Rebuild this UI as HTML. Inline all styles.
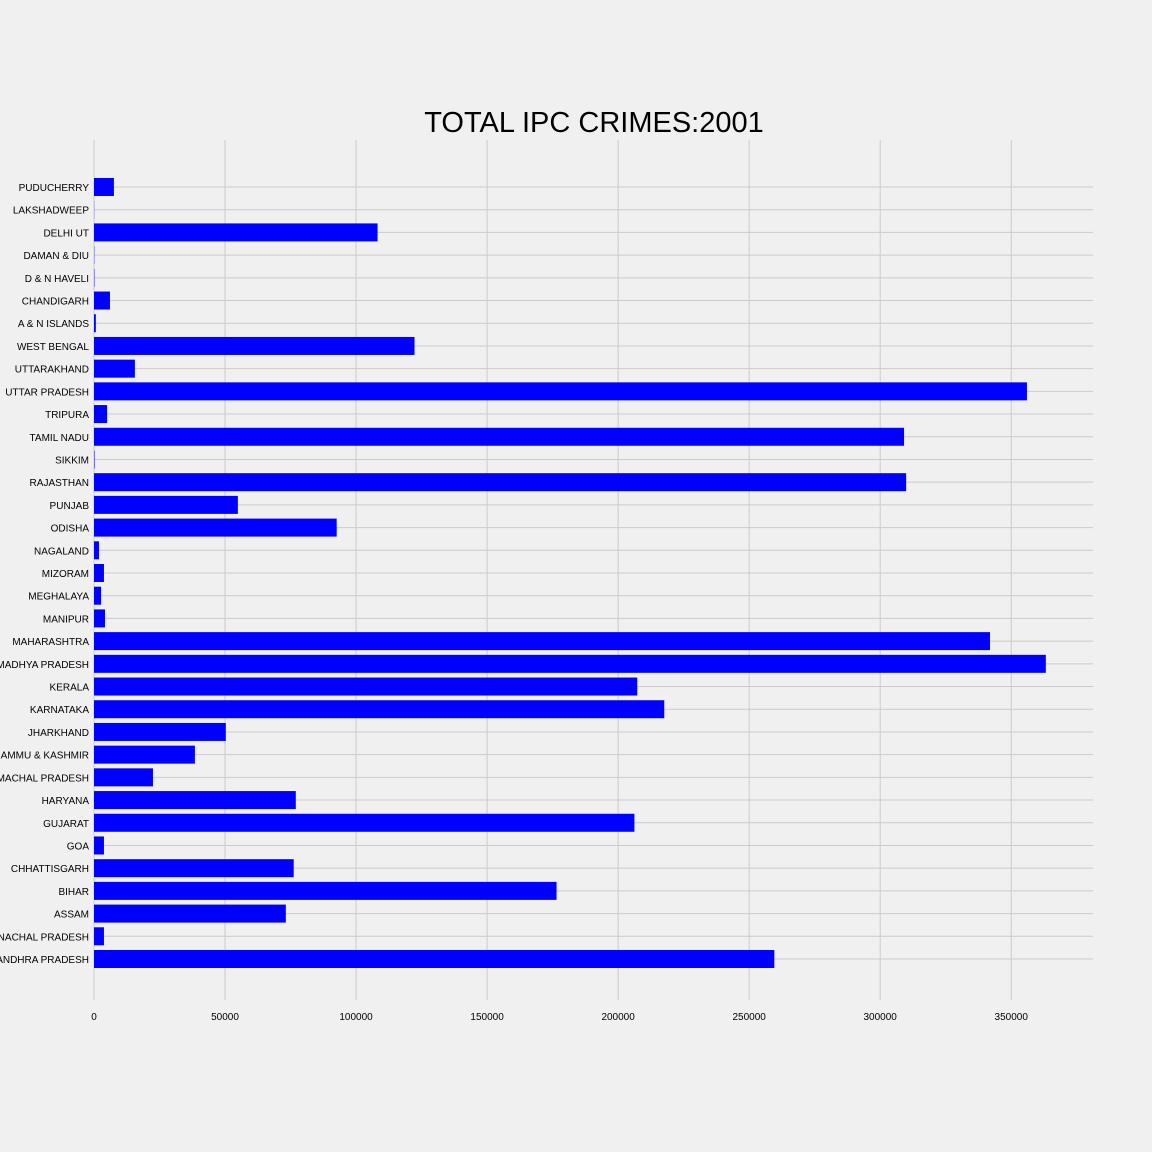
<!DOCTYPE html>
<html><head><meta charset="utf-8"><style>
body{margin:0;background:#f0f0f0;}
svg{display:block;font-family:"Liberation Sans","DejaVu Sans",sans-serif;}
</style></head><body>
<svg id="chart" width="1152" height="1152">
<rect width="1152" height="1152" fill="#f0f0f0"/>
<text x="594" y="132" font-size="29" text-anchor="middle" fill="#000">TOTAL IPC CRIMES:2001</text>
<g id="grid"></g><g id="bars"></g><g id="labels"></g>
</svg>
<script>
const categories=["ANDHRA PRADESH","ARUNACHAL PRADESH","ASSAM","BIHAR","CHHATTISGARH","GOA","GUJARAT","HARYANA","HIMACHAL PRADESH","JAMMU & KASHMIR","JHARKHAND","KARNATAKA","KERALA","MADHYA PRADESH","MAHARASHTRA","MANIPUR","MEGHALAYA","MIZORAM","NAGALAND","ODISHA","PUNJAB","RAJASTHAN","SIKKIM","TAMIL NADU","TRIPURA","UTTAR PRADESH","UTTARAKHAND","WEST BENGAL","A & N ISLANDS","CHANDIGARH","D & N HAVELI","DAMAN & DIU","DELHI UT","LAKSHADWEEP","PUDUCHERRY"];
const values=[259600,3800,73200,176500,76200,3800,206200,77000,22500,38500,50300,217600,207300,363200,341900,4200,2700,3800,1900,92600,54900,309900,200,309100,5000,356000,15600,122300,700,6100,150,100,108200,60,7600];
const xTicks=[0,50000,100000,150000,200000,250000,300000,350000];
const NS="http://www.w3.org/2000/svg";
const x0=94,x1=1093,yTop=140,yBot=1000,xMax=381200;
const xs=v=>x0+v/xMax*(x1-x0);
const ys=i=>959-i*(959-187)/34;
const grid=document.getElementById('grid'),bars=document.getElementById('bars'),labels=document.getElementById('labels');
function mk(tag,attrs,parent){const e=document.createElementNS(NS,tag);for(const k in attrs)e.setAttribute(k,attrs[k]);parent.appendChild(e);return e;}
xTicks.forEach(t=>{
  const l=mk('line',{x1:xs(t),x2:xs(t),y1:yTop,y2:yBot,stroke:'#cbcbcb','stroke-width':1},grid);
  
  
  const tx=mk('text',{x:xs(t),y:1020,'font-size':10,'text-anchor':'middle',fill:'#000'},labels);
  tx.textContent=String(t);
  
  
});
categories.forEach((c,i)=>{
  const y=ys(i);
  const l=mk('line',{x1:x0,x2:x1,y1:y,y2:y,stroke:'#cbcbcb','stroke-width':1},grid);
  
  
  const b=mk('rect',{x:x0,y:y-9,width:Math.max(0,xs(values[i])-x0),height:18,fill:'#0000ff'},bars);
  
  
  const tx=mk('text',{x:89,y:y+4,'font-size':10,'text-anchor':'end',fill:'#000'},labels);
  tx.textContent=c;
  
  
});
</script>
</body></html>
